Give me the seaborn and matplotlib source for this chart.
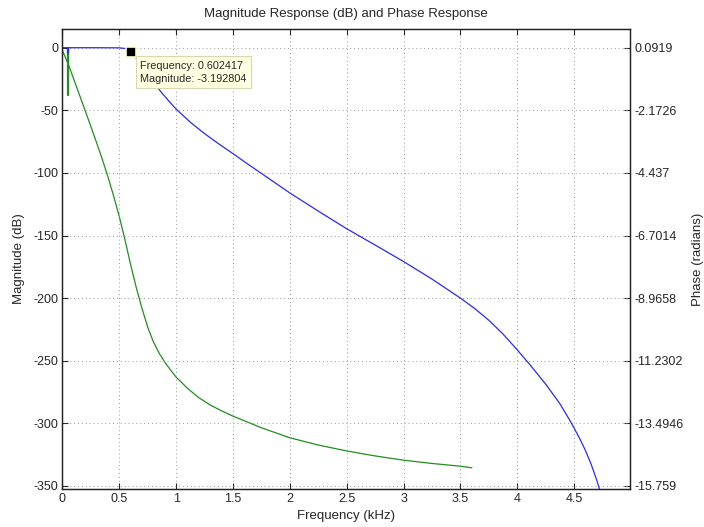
import numpy as np
import pandas as pd
import seaborn as sns
import matplotlib.pyplot as plt

# ---- data ----
freq_mag = [0, 0.3, 0.5, 0.55, 0.58, 0.602417, 0.65, 0.7, 0.75, 0.8, 0.85, 0.874, 0.94, 1.0,
            1.125, 1.25, 1.375, 1.5, 1.625, 1.75, 1.875, 2.0, 2.25, 2.5, 2.75, 3.0, 3.25,
            3.5, 3.625, 3.75, 3.875, 4.0, 4.125, 4.25, 4.375, 4.46, 4.5, 4.55, 4.6, 4.65,
            4.7, 4.75]
magnitude_db = [0, 0, -0.1, -0.6, -1.6, -3.192804, -8.3, -14.9, -21.3, -27.5, -33.3, -36, -43, -49,
                -59.5, -68.6, -76.8, -84.6, -92.6, -100.4, -108.2, -116, -130.5, -144.6, -157.6,
                -170.8, -184.8, -200, -208.3, -217.7, -228.8, -241.4, -254.8, -268.8, -284.5,
                -297.4, -304, -312.5, -322, -333, -346, -361]

freq_phase = [0, 0.05, 0.1, 0.15, 0.2, 0.25, 0.3, 0.35, 0.4, 0.45, 0.5, 0.55, 0.6, 0.65, 0.7,
              0.75, 0.8, 0.85, 0.9, 0.95, 1.0, 1.1, 1.2, 1.3, 1.4, 1.5, 1.75, 2.0, 2.25, 2.5,
              2.75, 3.0, 3.25, 3.5, 3.6]
phase_rad = [0.0, -0.474, -1.040, -1.606, -2.172, -2.748, -3.327, -3.925, -4.564, -5.252,
             -5.999, -6.837, -7.743, -8.581, -9.328, -10.007, -10.540, -10.947, -11.275,
             -11.558, -11.819, -12.226, -12.566, -12.829, -13.042, -13.232, -13.653, -14.015,
             -14.278, -14.491, -14.672, -14.826, -14.944, -15.044, -15.10]

spike_freq = [0.053, 0.053]
spike_phase = [0.0, -1.63]
spike_mag = [0, -4]

mag_ticks = [0, -50, -100, -150, -200, -250, -300, -350]
phase_tick_labels = ["0.0919", "-2.1726", "-4.437", "-6.7014", "-8.9658", "-11.2302", "-13.4946", "-15.759"]
freq_ticks = [0, 0.5, 1, 1.5, 2, 2.5, 3, 3.5, 4, 4.5]
freq_tick_labels = ["0", "0.5", "1", "1.5", "2", "2.5", "3", "3.5", "4", "4.5"]

marker_freq = 0.602417
marker_mag = -3.192804

# ---- styling ----
sns.set_style("ticks")
plt.rcParams['font.family'] = ['Liberation Sans', 'DejaVu Sans']

fig = plt.figure(figsize=(7.04, 5.27), dpi=100)
W, H = 704, 527
left, right, top, bottom = 62.3, 630, 29.3, 488.5
ax = fig.add_axes([left / W, 1 - bottom / H, (right - left) / W, (bottom - top) / H])

ylim_db = (-352, 14.7)
p_top = float(phase_tick_labels[0]); p_bot = float(phase_tick_labels[-1])
def db_to_rad(d):
    return p_top + d * (p_bot - p_top) / mag_ticks[-1]

mag_df = pd.DataFrame({"f": freq_mag, "m": magnitude_db})
ph_df = pd.DataFrame({"f": freq_phase, "p": phase_rad})

ax2 = ax.twinx()

sns.lineplot(data=ph_df, x="f", y="p", ax=ax2, color="#1f8f1f", lw=0.9,
             sort=False, estimator=None)
sns.lineplot(x=spike_freq, y=spike_phase, ax=ax2, color="#1f8f1f", lw=1.6,
             sort=False, estimator=None)
sns.lineplot(data=mag_df, x="f", y="m", ax=ax, color="#2a2aff", lw=0.9,
             sort=False, estimator=None)
sns.lineplot(x=spike_freq, y=spike_mag, ax=ax, color="#2a2aff", lw=1.6,
             sort=False, estimator=None)

ax.set_xlim(0, 4.99)
ax.set_ylim(*ylim_db)
ax2.set_ylim(db_to_rad(ylim_db[0]), db_to_rad(ylim_db[1]))

ax.set_xticks(freq_ticks)
ax.set_xticklabels(freq_tick_labels)
ax.set_yticks(mag_ticks)
ax.set_yticklabels([str(t) for t in mag_ticks])
ax2.set_yticks([float(s) for s in phase_tick_labels])
ax2.set_yticklabels(phase_tick_labels)

ax.grid(True, linestyle=(0, (1, 3)), color="#999999", lw=0.7)
ax.set_axisbelow(True)

for a in (ax, ax2):
    for s in a.spines.values():
        s.set_color("#222222")
        s.set_linewidth(0.9)
        s.set_visible(True)
ax.tick_params(direction="in", length=4, top=True, labelsize=9, width=0.8, pad=3)
ax2.tick_params(direction="in", length=4, labelsize=9, width=0.8, pad=3)

ax.set_xlabel("Frequency (kHz)", fontsize=9.5, labelpad=4)
ax.set_ylabel("Magnitude (dB)", fontsize=9.5, labelpad=6)
ax2.set_ylabel("Phase (radians)", fontsize=9.5, labelpad=6)
ax.set_title("Magnitude Response (dB) and Phase Response", fontsize=9.5, pad=9)

# data tip
ax.set_zorder(ax2.get_zorder() + 1)
ax.patch.set_visible(False)
ax.plot([marker_freq], [marker_mag], marker="s", ms=6.5, color="black",
        mec="#ffffcc", mew=1.2, zorder=6)
ax.annotate(f"Frequency: {marker_freq:.6f}\nMagnitude: {marker_mag:.6f}",
            xy=(marker_freq, marker_mag), xytext=(9, -9), textcoords="offset pixels",
            ha="left", va="top", fontsize=7.8, linespacing=1.35, zorder=7,
            bbox=dict(boxstyle="square,pad=0.4", fc="#ffffe1", ec="#d8d8b0", lw=0.8))

fig.savefig("out.png", dpi=100)
